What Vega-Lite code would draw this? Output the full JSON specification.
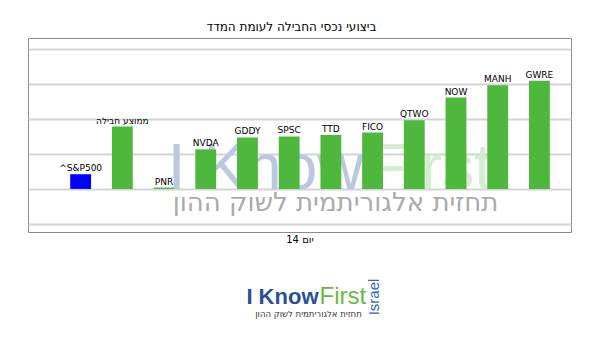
{
  "$schema": "https://vega.github.io/schema/vega-lite/v6.json",
  "padding": {"left": 27, "top": 20, "right": 22, "bottom": 5},
  "background": "white",
  "spacing": 6,
  "config": {"font": "DejaVu Sans"},
  "vconcat": [
    {
      "width": 543,
      "height": 194,
      "view": {"stroke": "#8c8c8c", "strokeWidth": 1},
      "title": {"text": "ביצועי נכסי החבילה לעומת המדד", "fontSize": 12, "font": "DejaVu Sans", "fontWeight": "normal", "offset": 4, "dx": -8, "color": "#000000"},
      "layer": [
        {
          "data": {"values": [{"t": "I Know"}]},
          "mark": {"type": "text", "font": "Liberation Sans", "fontSize": 64, "color": "#bcc8e0", "align": "right", "baseline": "alphabetic", "dx": 64, "dy": 54},
          "encoding": {"text": {"field": "t"}}
        },
        {
          "data": {"values": [{"t": "First"}]},
          "mark": {"type": "text", "font": "Liberation Sans", "fontSize": 64, "color": "#d6ecd0", "align": "left", "baseline": "alphabetic", "dx": 68, "dy": 54},
          "encoding": {"text": {"field": "t"}}
        },
        {
          "data": {"values": [{"t": "תחזית אלגוריתמית לשוק ההון"}]},
          "mark": {"type": "text", "font": "DejaVu Sans", "fontSize": 26, "color": "#ababab", "align": "center", "baseline": "alphabetic", "dx": 36, "dy": 76},
          "encoding": {"text": {"field": "t"}}
        },
        {
          "data": {"name": "bars"},
          "mark": {"type": "bar"},
          "encoding": {
            "x": {"field": "ticker", "type": "nominal", "sort": null,
                  "scale": {"paddingInner": 0.5, "paddingOuter": 0.76, "align": 0.666},
                  "axis": {"labels": false, "ticks": false, "domain": false, "title": "\u05d9\u05d5\u05dd 14", "titleFontSize": 10, "titleFont": "DejaVu Sans", "titleFontWeight": "normal", "titleColor": "#000000", "titlePadding": 2}},
            "y": {"field": "value", "type": "quantitative",
                  "scale": {"domain": [-1.23, 4.31], "nice": false, "zero": false},
                  "axis": {"labels": false, "ticks": false, "domain": false, "title": null, "grid": true, "tickCount": 6, "gridColor": "#d4d4d4", "gridWidth": 2, "gridOpacity": 1}},
            "color": {"field": "kind", "type": "nominal", "scale": {"domain": ["index", "stock"], "range": ["#0000ff", "#4db83c"]}, "legend": null}
          }
        },
        {
          "data": {"name": "bars"},
          "mark": {"type": "text", "fontSize": 9, "font": "DejaVu Sans", "baseline": "bottom", "dy": -1, "color": "#000000"},
          "encoding": {
            "x": {"field": "ticker", "type": "nominal", "sort": null},
            "y": {"field": "value", "type": "quantitative"},
            "text": {"field": "ticker"}
          }
        }
      ]
    },
    {
      "width": 543,
      "height": 80,
      "view": {"stroke": null},
      "layer": [
        {
          "data": {"values": [{"t": "I Know"}]},
          "mark": {"type": "text", "font": "Liberation Sans", "fontSize": 22, "fontWeight": "bold", "color": "#2b4f96", "align": "right", "baseline": "alphabetic", "dx": 19, "dy": 13},
          "encoding": {"text": {"field": "t"}}
        },
        {
          "data": {"values": [{"t": "First"}]},
          "mark": {"type": "text", "font": "Liberation Sans", "fontSize": 24, "color": "#69bb3f", "align": "left", "baseline": "alphabetic", "dx": 20, "dy": 13},
          "encoding": {"text": {"field": "t"}}
        },
        {
          "data": {"values": [{"t": "תחזית אלגוריתמית לשוק ההון"}]},
          "mark": {"type": "text", "font": "DejaVu Sans", "fontSize": 8.5, "color": "#333333", "align": "center", "baseline": "alphabetic", "dx": 9, "dy": 26},
          "encoding": {"text": {"field": "t"}}
        },
        {
          "data": {"values": [{"t": "Israel"}]},
          "mark": {"type": "text", "font": "Liberation Sans", "fontSize": 15, "color": "#3a66b0", "align": "center", "baseline": "middle", "angle": 270, "dx": -6, "dy": 74},
          "encoding": {"text": {"field": "t"}}
        }
      ]
    }
  ],
  "datasets": {
    "bars": [
      {"ticker": "^S&P500", "value": 0.42, "kind": "index"},
      {"ticker": "ממוצע חבילה", "value": 1.78, "kind": "stock"},
      {"ticker": "PNR", "value": 0.04, "kind": "stock"},
      {"ticker": "NVDA", "value": 1.13, "kind": "stock"},
      {"ticker": "GDDY", "value": 1.47, "kind": "stock"},
      {"ticker": "SPSC", "value": 1.5, "kind": "stock"},
      {"ticker": "TTD", "value": 1.54, "kind": "stock"},
      {"ticker": "FICO", "value": 1.61, "kind": "stock"},
      {"ticker": "QTWO", "value": 1.96, "kind": "stock"},
      {"ticker": "NOW", "value": 2.61, "kind": "stock"},
      {"ticker": "MANH", "value": 2.96, "kind": "stock"},
      {"ticker": "GWRE", "value": 3.09, "kind": "stock"}
    ]
  }
}
